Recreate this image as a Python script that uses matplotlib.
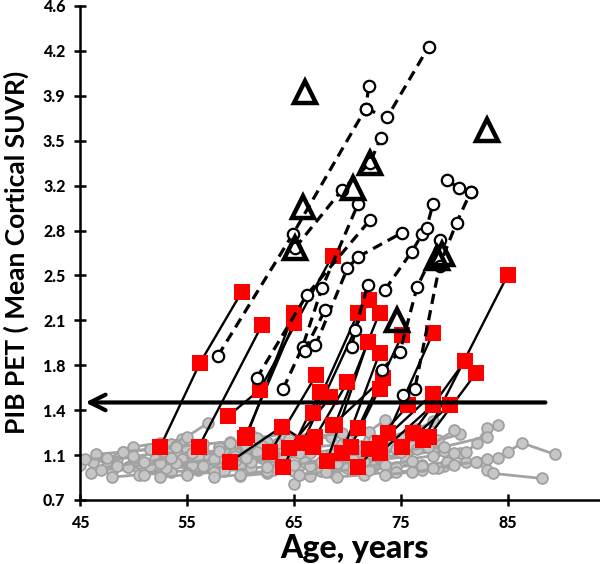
import matplotlib
matplotlib.use("Agg")
import matplotlib.pyplot as plt
import numpy as np

plt.rcParams['font.family'] = ['Lato', 'DejaVu Sans']

# ---------------- data ----------------
x_ticks = [45, 55, 65, 75, 85]
y_tick_labels = ["0.7", "1.1", "1.4", "1.8", "2.1", "2.5", "2.8", "3.2", "3.5", "3.9", "4.2", "4.6"]
threshold = 1.47
arrow_x = [88.5, 45.5]

# gray (amyloid-negative) longitudinal subjects
gray_ages = [
    [45.0, 46.2, 48.5], [46.0, 48.0, 50.5], [47.5, 50.0, 52.0], [48.0, 50.5, 53.0],
    [49.5, 52.0, 54.5], [50.0, 52.5, 54.5], [50.5, 53.0, 55.0], [51.0, 53.5, 56.0],
    [52.0, 54.0, 56.5], [53.0, 55.5, 58.0], [53.5, 55.0, 57.0], [54.5, 57.0, 59.5],
    [55.0, 57.5, 60.0], [56.0, 58.5, 61.0], [57.0, 59.5, 62.0], [58.0, 60.5, 62.5],
    [58.5, 61.0, 63.0], [59.5, 62.0, 64.5], [60.0, 62.5, 65.0], [61.0, 63.5, 66.0],
    [62.0, 64.5, 67.0], [63.0, 65.5, 68.0], [64.0, 66.5, 69.0], [65.0, 66.5, 68.5],
    [66.0, 68.5, 71.0], [67.0, 69.5, 72.0], [67.5, 70.0, 72.5], [68.5, 71.0, 73.5],
    [69.0, 71.5, 74.0], [70.0, 72.0, 73.5], [70.5, 73.0, 75.5], [71.5, 74.0, 76.5],
    [72.0, 74.5, 77.0], [73.0, 75.5, 78.0], [74.0, 76.5, 78.0], [74.5, 77.0, 79.0],
    [75.5, 78.0, 80.5], [76.0, 78.5, 80.5], [77.0, 79.3, 81.1],
    [79.0, 80.0, 81.1, 82.1, 83.0, 84.1], [82.1, 83.0, 84.1, 85.0, 86.3, 89.4],
    [83.0, 83.6, 88.2], [46.5, 49.0, 51.5], [51.5, 54.0, 57.5], [56.5, 59.0, 61.5],
    [61.5, 64.0, 66.5], [66.5, 69.0, 71.5], [71.0, 73.5, 76.0], [76.5, 79.0, 83.0],
    [47.0, 49.5, 52.5], [55.5, 58.0, 60.5], [63.5, 66.0, 68.5], [68.0, 70.5, 73.0],
    [45.5, 47.5, 50.0], [48.5, 51.0, 53.5], [49.0, 51.5, 54.0], [52.5, 55.0, 57.5],
    [54.0, 56.5, 59.0], [57.5, 60.0, 62.5], [59.0, 61.5, 64.0], [60.5, 63.0, 65.5],
    [62.5, 65.0, 67.5], [64.5, 67.0, 69.5], [65.5, 68.0, 70.5], [69.5, 72.0, 74.5],
    [72.5, 75.0, 77.5], [73.5, 76.0, 78.5], [75.0, 77.5, 80.0], [78.0, 80.0, 82.0],
]
gray_vals = [
    [0.98, 1.00, 1.02], [0.91, 0.93, 0.95], [1.01, 1.04, 1.07], [0.88, 0.90, 0.93],
    [0.96, 0.98, 1.00], [1.12, 1.15, 1.18], [0.99, 1.05, 1.10], [0.90, 0.92, 0.94],
    [1.02, 1.06, 1.09], [0.95, 0.98, 1.01], [1.14, 1.20, 1.31], [1.02, 1.05, 1.08],
    [0.91, 0.94, 0.96], [1.04, 1.10, 1.21], [0.98, 1.01, 1.03], [1.12, 1.10, 1.16],
    [0.93, 0.95, 0.97], [1.05, 1.07, 1.09], [0.89, 0.91, 0.93], [1.00, 1.02, 1.05],
    [1.13, 1.16, 1.18], [0.94, 0.97, 0.99], [1.04, 1.07, 1.10], [0.83, 0.89, 0.92],
    [1.00, 1.02, 1.04], [1.12, 1.14, 1.17], [0.93, 0.95, 0.97], [1.06, 1.08, 1.10],
    [0.88, 0.90, 0.92], [1.18, 1.24, 1.33], [1.00, 1.02, 1.04], [1.11, 1.13, 1.15],
    [0.94, 0.96, 0.98], [1.04, 1.06, 1.08], [1.20, 1.26, 1.32], [0.92, 0.94, 0.97],
    [1.02, 1.05, 1.07], [1.13, 1.17, 1.22], [0.97, 1.00, 1.00],
    [1.09, 1.07, 1.08, 1.15, 1.27, 1.29], [1.00, 1.02, 1.03, 1.08, 1.15, 1.06],
    [0.94, 0.91, 0.87], [1.06, 1.08, 1.10], [0.97, 0.99, 1.02], [0.97, 1.00, 1.06],
    [1.08, 1.10, 1.12], [0.97, 0.99, 1.01], [0.96, 0.98, 1.01], [1.10, 1.12, 1.20],
    [0.94, 0.96, 0.99], [1.07, 1.09, 1.13], [1.15, 1.18, 1.20], [1.00, 1.02, 1.05],
    [1.02, 1.03, 1.05], [0.97, 1.00, 1.03], [1.08, 1.10, 1.13], [0.88, 0.90, 0.92],
    [1.12, 1.14, 1.16], [0.88, 0.90, 0.93], [1.15, 1.19, 1.22], [1.03, 1.05, 1.07],
    [0.96, 0.98, 1.00], [1.18, 1.20, 1.23], [0.90, 0.92, 0.94], [1.05, 1.07, 1.10],
    [1.17, 1.19, 1.22], [0.90, 0.92, 0.95], [1.08, 1.12, 1.25], [0.95, 0.98, 1.00],
]

# red (converters) subjects, solid black lines
red_ages = [
    [52.5, 56.2, 60.1], [56.1, 62.0], [58.8, 61.8, 68.6], [60.4, 65.0],
    [59.0, 63.9, 66.8], [62.8, 67.1], [64.0, 67.4], [60.6, 65.0],
    [65.8, 72.0], [66.8, 71.0], [68.8, 73.0], [68.1, 71.9],
    [71.0, 75.1], [71.0, 73.8, 78.0], [69.5, 73.0], [73.0, 78.0],
    [73.0, 78.0], [75.1, 79.6], [77.1, 85.0], [76.1, 81.0],
    [77.6, 82.0], [67.0, 70.0], [68.6, 73.3], [64.5, 68.4],
    [70.3, 73.0], [72.0, 75.7],
]
red_vals = [
    [1.12, 1.78, 2.34], [1.12, 2.08], [1.36, 1.57, 2.63], [1.19, 2.10],
    [1.00, 1.28, 1.12], [1.08, 1.69], [0.96, 1.55], [1.21, 2.18],
    [1.15, 2.28], [1.39, 2.18], [1.29, 2.18], [1.01, 1.95],
    [1.27, 2.00], [0.96, 1.23, 2.02], [1.07, 1.86], [1.07, 1.45],
    [1.15, 1.54], [1.12, 1.45], [1.17, 2.48], [1.23, 1.80],
    [1.20, 1.70], [1.20, 1.63], [1.29, 1.66], [1.11, 1.51],
    [1.12, 1.58], [1.10, 1.45],
]

# amyloid-positive subjects, dashed lines with open circles
pos_ages = [
    [57.9, 64.9, 71.7, 72.0], [71.7, 73.7, 77.6], [65.1, 69.5, 72.1, 73.1],
    [61.5, 66.2, 72.1], [64.0, 65.8, 67.6, 71.0], [67.0, 70.0, 71.0, 75.1],
    [66.0, 67.9], [70.4, 70.7, 71.9], [73.2, 74.9, 76.5, 78.6],
    [75.2, 76.3, 78.6, 80.2, 81.5], [73.5, 76.0, 77.0, 77.4, 78.0],
    [79.3, 80.4, 81.5],
]
pos_vals = [
    [1.84, 2.80, 3.79, 3.97], [3.79, 3.72, 4.28], [2.69, 3.15, 3.36, 3.56],
    [1.66, 2.32, 2.91], [1.58, 1.91, 2.37, 3.04], [1.92, 2.53, 2.62, 2.81],
    [1.88, 2.20], [1.91, 2.04, 2.40], [1.73, 1.87, 2.38, 2.75],
    [1.53, 1.58, 2.55, 2.89, 3.13], [2.36, 2.66, 2.80, 2.85, 3.04],
    [3.23, 3.16, 3.13],
]

# open triangles
tri_ages = [66.0, 83.0, 65.8, 72.1, 70.5, 65.1, 78.4, 78.8, 74.6]
tri_vals = [3.92, 3.62, 3.01, 3.36, 3.16, 2.69, 2.61, 2.64, 2.12]

# ---------------- plot ----------------
fig = plt.figure(figsize=(6.0, 5.64), dpi=100)
ax = fig.add_axes([80/600, 64/564, 520/600, 494/564])

for a, v in zip(gray_ages, gray_vals):
    ax.plot(a, v, color='#a3a3a3', lw=2.0, marker='o', ms=7.8,
            mfc='#c6c6c6', mec='#a0a0a0', mew=1.3, zorder=2)

for a, v in zip(red_ages, red_vals):
    ax.plot(a, v, color='black', lw=1.7, zorder=3)
for a, v in zip(red_ages, red_vals):
    ax.plot(a, v, ls='none', marker='s', ms=11.5, mfc='#ff0000', mec='#ff0000',
            mew=0, zorder=4)

for a, v in zip(pos_ages, pos_vals):
    ax.plot(a, v, color='black', lw=2.3, ls=(0, (3.2, 2.0)), marker='o', ms=8.2,
            mfc='white', mec='black', mew=1.6, zorder=5)

ax.plot(tri_ages, tri_vals, ls='none', marker='^', ms=15.5, mfc='none',
        mec='black', mew=3.2, zorder=6)

ax.annotate('', xy=(arrow_x[1], threshold), xytext=(arrow_x[0], threshold),
            arrowprops=dict(arrowstyle='->', lw=3.0, color='black',
                            mutation_scale=28, shrinkA=0, shrinkB=0),
            zorder=7)

ax.set_xlim(45, 93.6)
ax.set_ylim(0.7, 4.6)
ax.set_xticks(x_ticks)
ax.set_xticklabels([str(t) for t in x_ticks])
ax.set_yticks(np.linspace(0.7, 4.6, len(y_tick_labels)))
ax.set_yticklabels(y_tick_labels)

for s in ['top', 'right']:
    ax.spines[s].set_visible(False)
for s in ['left', 'bottom']:
    ax.spines[s].set_linewidth(1.8)
ax.tick_params(direction='inout', length=9, width=1.8, labelsize=11.5, pad=6)
for lab in ax.get_xticklabels() + ax.get_yticklabels():
    lab.set_fontweight('black')

ax.set_xlabel('Age, years', fontsize=23, fontweight='black')
ax.xaxis.set_label_coords((355 - 80) / 520, -0.068)
ax.set_ylabel('PIB PET ( Mean Cortical SUVR)', fontsize=19, fontweight='bold')
ax.yaxis.set_label_coords(-0.098, (500 - 252) / 494)

fig.savefig('out.png', dpi=100)
